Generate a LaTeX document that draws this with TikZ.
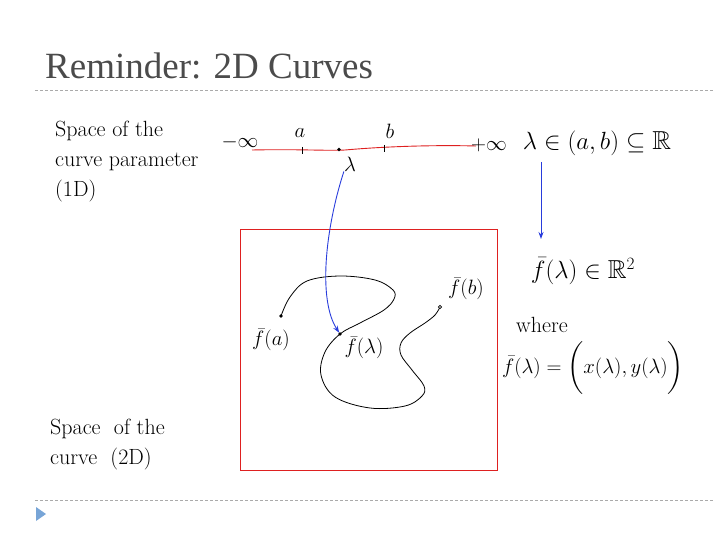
\documentclass[tikz,border=0pt]{standalone}
\usepackage{amsmath,amssymb}
\usepackage{fontspec}
\newfontfamily\titlefont{Liberation Serif}
\usetikzlibrary{arrows.meta}
\definecolor{hred}{RGB}{222,32,32}
\definecolor{hblue}{RGB}{40,60,220}
\definecolor{tgray}{RGB}{75,75,75}
\definecolor{dgray}{RGB}{170,170,170}
\definecolor{tri}{RGB}{120,165,215}
\tikzset{
  hand/.style={inner sep=0pt, font=\fontsize{22}{30}\selectfont},
  handbig/.style={inner sep=0pt, font=\fontsize{26}{30}\selectfont},
  sep/.style={dgray, line width=0.8pt, dash pattern=on 3pt off 2pt},
  ink/.style={black, line width=0.8pt},
  bluearrow/.style={hblue, line width=0.9pt, -{Stealth[length=7pt,width=5pt]}},
}
\begin{document}
\begin{tikzpicture}[x=1pt,y=-1pt]
\useasboundingbox (0,0) rectangle (720,540);
% title and separators
\node[anchor=base west, inner sep=0pt, text=tgray, font=\titlefont\fontsize{37}{40}\selectfont] (title) at (45,79) {Reminder: 2D Curves};
\draw[sep] (35,90) -- (713,90);
\draw[sep] (35,500) -- (713,500);
\fill[tri] (36,507) -- (46,514) -- (36,521) -- cycle;

% left texts
\node[hand, anchor=west, align=left] (space1) at (55,162) {Space of the\\curve parameter\\(1D)};
\node[hand, anchor=west, align=left] (space2) at (50,445) {Space \ of the\\curve \ (2D)};

% parameter axis
\draw[hred, line width=0.9pt] (252,150) .. controls (300,149) and (330,151) .. (345,150) .. controls (390,146) and (440,145) .. (476,146);
\draw[ink] (302,147) -- (302,154);
\draw[ink] (384,145) -- (384,152);
\fill (339,149.5) circle (1.8pt);
\node[hand] (minf) at (240,142) {$-\infty$};
\node[hand] (la) at (300,133) {$a$};
\node[hand] (lb) at (390,131) {$b$};
\node[hand] (pinf) at (489,145) {$+\infty$};
\node[hand] (lam) at (350,164) {$\lambda$};

% right texts
\node[handbig] (dom) at (597,143) {$\lambda\in(a,b)\subseteq\mathbb{R}$};
\node[handbig] (img) at (583,271) {$\bar{f}(\lambda)\in\mathbb{R}^2$};
\node[hand] (where) at (542,325) {where};
\node[hand] (def) at (593,368) {$\bar{f}(\lambda)=\bigg(x(\lambda),y(\lambda)\bigg)$};
\coordinate (r1) at (541,162);
\coordinate (r2) at (541,239);
\draw[bluearrow] (r1) -- (r2);

% box
\draw[hred, line width=0.9pt] (240,229) rectangle (497,470);

% curve
\draw[ink] plot[smooth, tension=0.6] coordinates {(281,316) (290,297) (307,281) (340,276) (375,280) (393,290) (394,299) (384,310) (360,323) (340,334) (325,352) (321,375) (335,397) (370,408) (405,406) (422,396) (424,386) (412,370) (401,355) (401,343) (410,333) (425,323) (435,315) (440,307)};
\coordinate (fa) at (281,316);
\coordinate (fl) at (340,334);
\coordinate (fb) at (440,307);
\fill (fa) circle (1.8pt);
\fill (fl) circle (1.8pt);
\draw[line width=0.6pt, fill=white] (fb) circle (1.6pt);
\node[hand] (lfa) at (271,340) {$\bar{f}(a)$};
\node[hand] (lfl) at (364,348) {$\bar{f}(\lambda)$};
\node[hand] (lfb) at (466,289) {$\bar{f}(b)$};

% blue arrow from parameter to curve point
\draw[bluearrow, shorten >=1.5pt] (lam.south west) .. controls (325,230) and (318,300) .. (fl);
\end{tikzpicture}
\end{document}
